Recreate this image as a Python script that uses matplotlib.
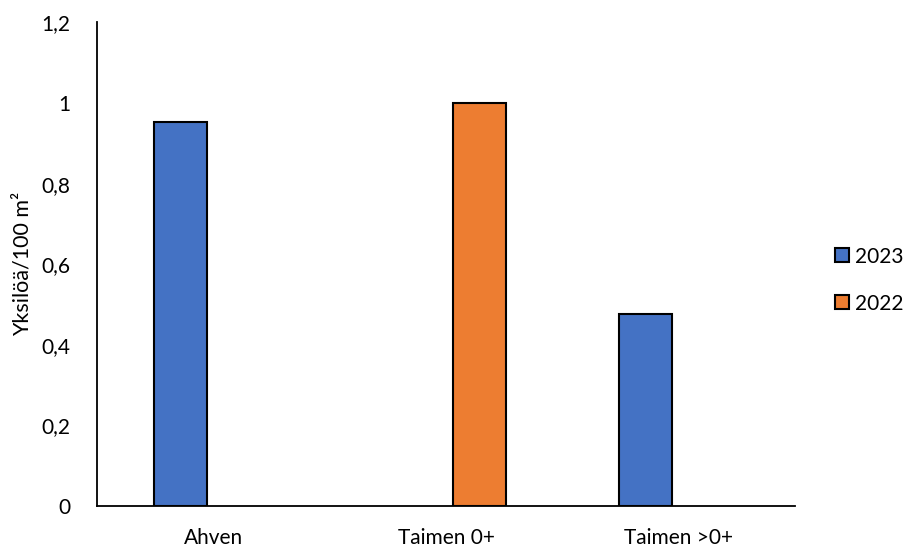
import numpy as np
import matplotlib.pyplot as plt

# --- Data ---
categories = ['Ahven', 'Taimen 0+', 'Taimen >0+']
years = ['2023', '2022']
values_2023 = [0.952, np.nan, 0.476]
values_2022 = [np.nan, 1.0, np.nan]
y_ticks = [0, 0.2, 0.4, 0.6, 0.8, 1.0, 1.2]
y_tick_labels = ['0', '0,2', '0,4', '0,6', '0,8', '1', '1,2']

colors = ['#4472C4', '#ED7D31']

plt.rcParams['font.family'] = ['Lato', 'DejaVu Sans']

fig = plt.figure(figsize=(9.05, 5.48), dpi=100)
ax = fig.add_axes([97 / 905, 1 - 506 / 548, (795 - 97) / 905, (506 - 22.4) / 548])

x = np.arange(len(categories))
width = 0.228
offset = 0.142

ax.bar(x - offset, values_2023, width, color=colors[0], edgecolor='black',
       linewidth=1.5, label=years[0])
ax.bar(x + offset, values_2022, width, color=colors[1], edgecolor='black',
       linewidth=1.5, label=years[1])

ax.set_xlim(-0.5, len(categories) - 0.5)
ax.set_ylim(0, 1.2)
ax.set_yticks(y_ticks)
ax.set_yticklabels(y_tick_labels)
ax.set_xticks(x)
ax.set_xticklabels(categories)
ax.tick_params(axis='both', length=0, labelsize=15, colors='black')
ax.tick_params(axis='y', pad=19)
ax.tick_params(axis='x', pad=16)

for side in ['top', 'right']:
    ax.spines[side].set_visible(False)
ax.spines['left'].set_linewidth(1.3)
ax.spines['bottom'].set_linewidth(1.3)

ax.set_ylabel('Yksilöä/100 m²', fontsize=15.5)
ax.yaxis.set_label_coords(-0.092, 0.5)

ax.legend(loc='center left', bbox_to_anchor=(1.058, 0.467), frameon=False,
          fontsize=15, handlelength=0.65, handleheight=0.65, handletextpad=0.3,
          labelspacing=1.3, borderpad=0, borderaxespad=0)

plt.savefig('out.png', dpi=100)
